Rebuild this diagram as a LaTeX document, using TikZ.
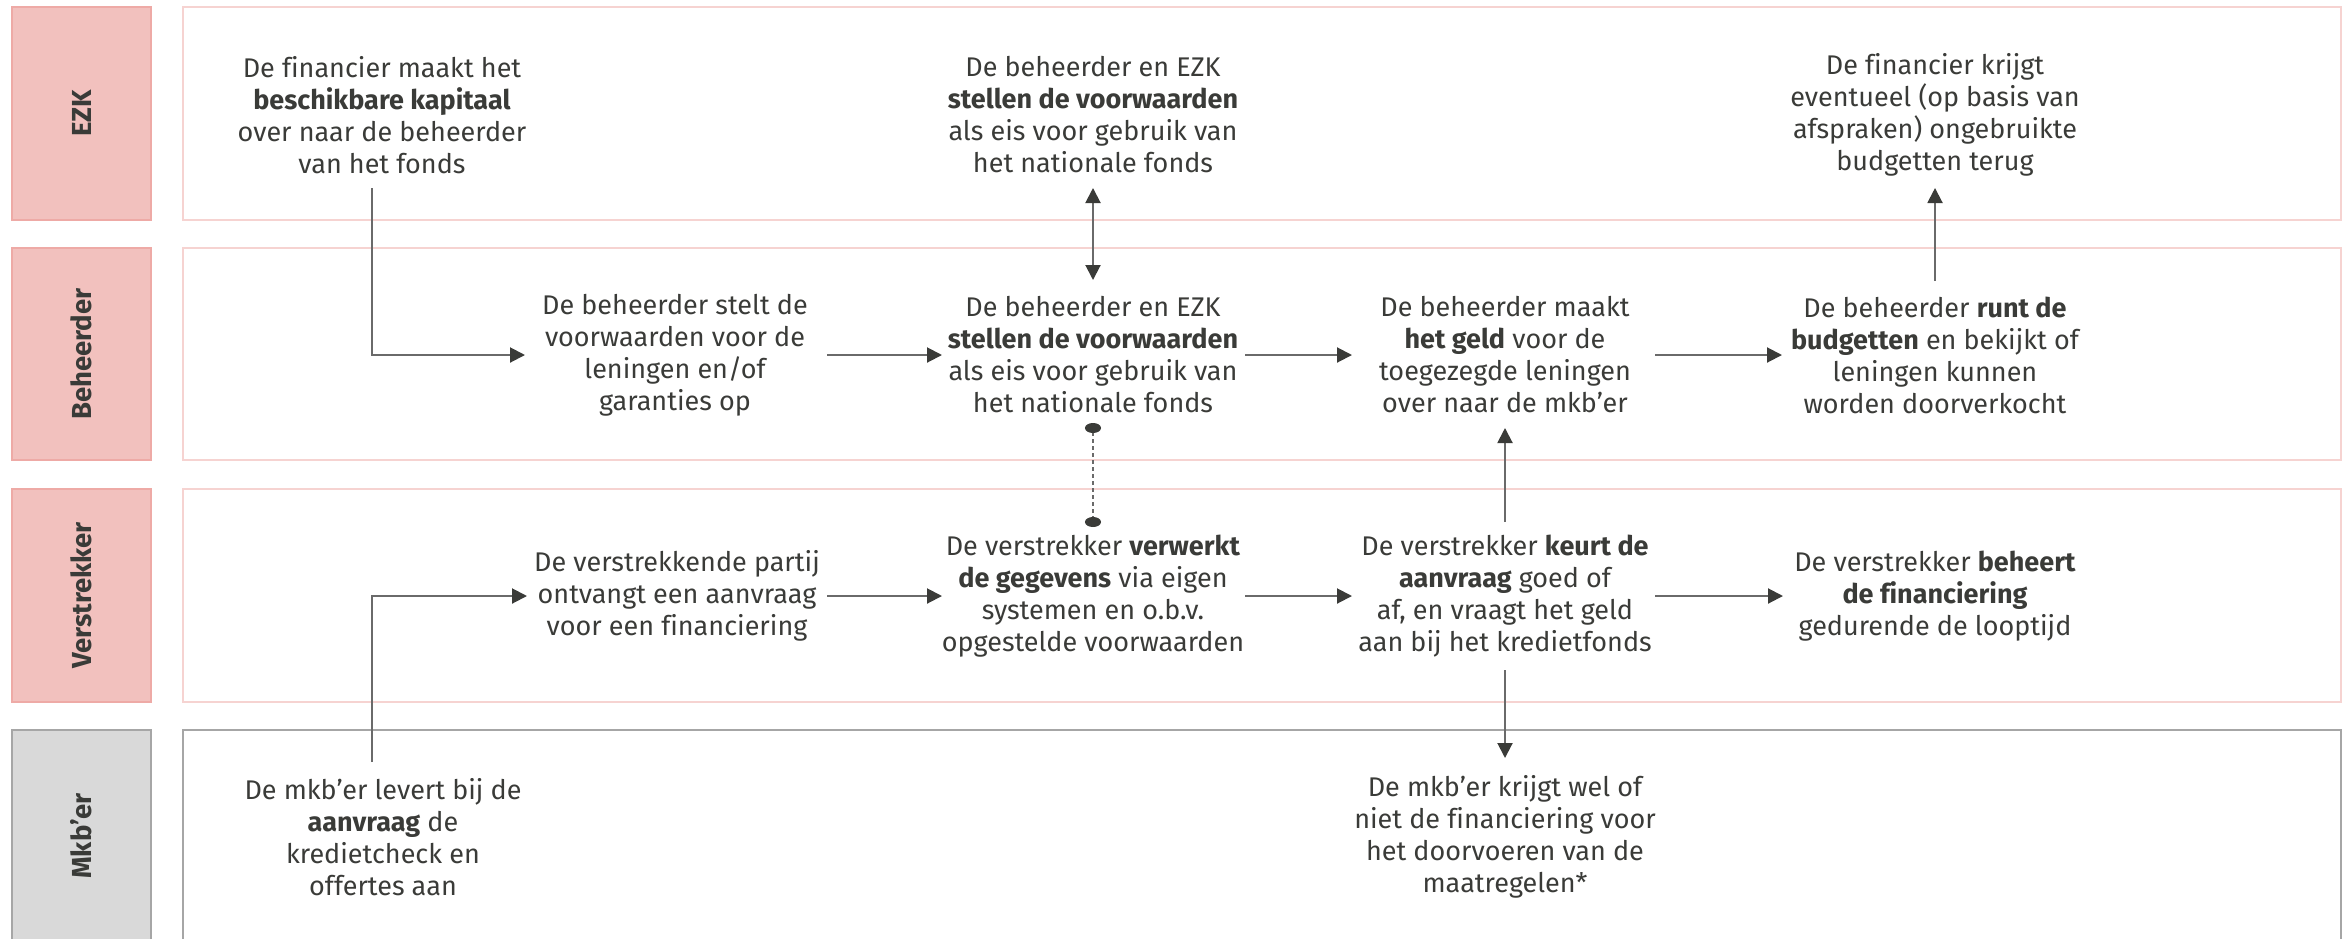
\documentclass[tikz,border=0pt]{standalone}
\usepackage{fontspec}
\setmainfont{Fira Sans}[Ligatures=NoCommon]
\usetikzlibrary{arrows.meta}
\definecolor{txt}{HTML}{3A3B38}
\definecolor{headc}{HTML}{3A3B38}
\definecolor{linec}{HTML}{6A6A6A}
\definecolor{labfill}{HTML}{F2C1BE}
\definecolor{labdraw}{HTML}{EEAAA6}
\definecolor{lanedraw}{HTML}{F6D3D1}
\definecolor{greyfill}{HTML}{D9D9D9}
\definecolor{greydraw}{HTML}{A6A6A6}
\tikzset{
 labbox/.style={fill=labfill,draw=labdraw,line width=2pt},
 labboxg/.style={fill=greyfill,draw=greydraw,line width=2pt},
 lanebox/.style={draw=lanedraw,line width=2pt},
 laneboxg/.style={draw=greydraw,line width=2pt},
 labtxt/.style={rotate=90,text=txt,font=\fontsize{27.5}{32}\selectfont\bfseries},
 stepbox/.style={align=center,text=txt,font=\fontsize{27}{32}\selectfont,inner sep=0pt},
 arr/.style={draw=linec,line width=2pt,-{Triangle[length=15pt,width=15pt,color=headc]}},
 dblarr/.style={draw=linec,line width=2pt,{Triangle[length=15pt,width=15pt,color=headc]}-{Triangle[length=15pt,width=15pt,color=headc]}},
 dotconn/.style={draw=linec,line width=1.5pt,dash pattern=on 4pt off 3pt,{Ellipse[length=10pt,width=16pt,color=headc]}-{Ellipse[length=10pt,width=16pt,color=headc]}}
}
\begin{document}
\begin{tikzpicture}[x=1pt,y=-1pt]
\useasboundingbox (0,0) rectangle (2351,938);
\clip (0,0) rectangle (2351,938);
% swimlane boxes
\path[labbox] (12,7) rectangle (151,220);
\path[labbox] (12,248) rectangle (151,460);
\path[labbox] (12,489) rectangle (151,702);
\path[labboxg] (12,730) rectangle (151,960);
\path[lanebox] (183,7) rectangle (2341,220);
\path[lanebox] (183,248) rectangle (2341,460);
\path[lanebox] (183,489) rectangle (2341,702);
\path[laneboxg] (183,730) rectangle (2341,960);
% lane labels
\node[labtxt] (lezk) at (81.5,113.5) {EZK};
\node[labtxt] (lbeh) at (81.5,354) {Beheerder};
\node[labtxt] (lver) at (81.5,595.5) {Verstrekker};
\node[labtxt] (lmkb) at (81.5,836) {Mkb’er};
% steps
\node[stepbox] (e1) at (382,115) {De financier maakt het\\\textbf{beschikbare kapitaal}\\over naar de beheerder\\van het fonds};
\node[stepbox] (e3) at (1093,115) {De beheerder en EZK\\\textbf{stellen de voorwaarden}\\als eis voor gebruik van\\het nationale fonds};
\node[stepbox] (e5) at (1935,115) {De financier krijgt\\eventueel (op basis van\\afspraken) ongebruikte\\budgetten terug};
\node[stepbox] (b2) at (675,355) {De beheerder stelt de\\voorwaarden voor de\\leningen en/of\\garanties op};
\node[stepbox] (b3) at (1093,355) {De beheerder en EZK\\\textbf{stellen de voorwaarden}\\als eis voor gebruik van\\het nationale fonds};
\node[stepbox] (b4) at (1505,355) {De beheerder maakt\\\textbf{het geld} voor de\\toegezegde leningen\\over naar de mkb’er};
\node[stepbox] (b5) at (1935,355) {De beheerder \textbf{runt de}\\\textbf{budgetten} en bekijkt of\\leningen kunnen\\worden doorverkocht};
\node[stepbox] (v2) at (677,596) {De verstrekkende partij\\ontvangt een aanvraag\\voor een financiering};
\node[stepbox] (v3) at (1093,596) {De verstrekker \textbf{verwerkt}\\\textbf{de gegevens} via eigen\\systemen en o.b.v.\\opgestelde voorwaarden};
\node[stepbox] (v4) at (1505,596) {De verstrekker \textbf{keurt de}\\\textbf{aanvraag} goed of\\af, en vraagt het geld\\aan bij het kredietfonds};
\node[stepbox] (v5) at (1935,596) {De verstrekker \textbf{beheert}\\\textbf{de financiering}\\gedurende de looptijd};
\node[stepbox] (m1) at (383,837) {De mkb’er levert bij de\\\textbf{aanvraag} de\\kredietcheck en\\offertes aan};
\node[stepbox] (m4) at (1505,837) {De mkb’er krijgt wel of\\niet de financiering voor\\het doorvoeren van de\\maatregelen*};
% connectors
\coordinate (k1) at (372,0);
\draw[arr] (k1 |- 0,188) -- (k1 |- b2) -- (525,0 |- b2);
\draw[arr] (827,0 |- b2) -- (942,0 |- b3);
\draw[arr] (1245,0 |- b3) -- (1352,0 |- b4);
\draw[arr] (1655,0 |- b4) -- (1782,0 |- b5);
\draw[arr] (b5 |- 0,281) -- (e5 |- 0,188);
\draw[dblarr] (e3 |- 0,188) -- (b3 |- 0,280);
\draw[dotconn] (b3 |- 0,423) -- (v3 |- 0,527);
\draw[arr] (k1 |- 0,762) -- (k1 |- v2) -- (527,0 |- v2);
\draw[arr] (827,0 |- v2) -- (942,0 |- v3);
\draw[arr] (1245,0 |- v3) -- (1352,0 |- v4);
\draw[arr] (1655,0 |- v4) -- (1783,0 |- v5);
\draw[arr] (v4 |- 0,522) -- (b4 |- 0,428);
\draw[arr] (v4 |- 0,670) -- (m4 |- 0,758);
\end{tikzpicture}
\end{document}
